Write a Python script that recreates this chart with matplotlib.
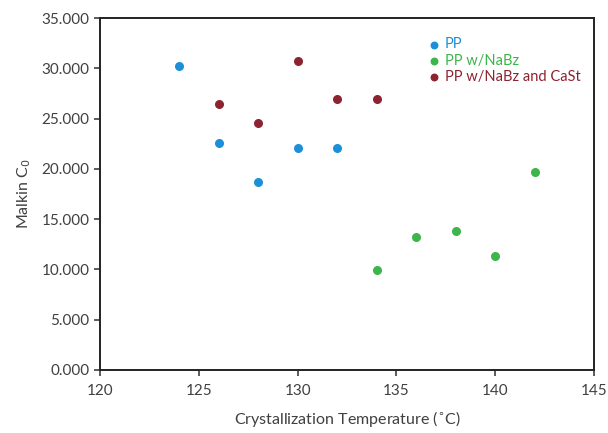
import matplotlib.pyplot as plt
from matplotlib.ticker import FormatStrFormatter

# crystallization temperature (C) and Malkin C0 per sample set
pp_t = [124, 126, 128, 130, 132]
pp_c = [30.2, 22.6, 18.7, 22.1, 22.1]

nabz_t = [134, 136, 138, 140, 142]
nabz_c = [9.9, 13.2, 13.8, 11.3, 19.7]

cast_t = [126, 128, 130, 132, 134]
cast_c = [26.5, 24.6, 30.7, 27.0, 27.0]

labels = ["PP", "PP w/NaBz", "PP w/NaBz and CaSt"]
colors = ["#1b8fd8", "#3cb54a", "#8c2331"]
x_ticks = [120, 125, 130, 135, 140, 145]
y_ticks = [0, 5, 10, 15, 20, 25, 30, 35]

text_col = "#404040"
plt.rcParams['font.family'] = ['Lato', 'DejaVu Sans']

fig = plt.figure(figsize=(6.08, 4.33), dpi=100)
ax = fig.add_axes([0.1645, 0.1455, 0.8125, 0.8125])

for t, c, lab, col in zip([pp_t, nabz_t, cast_t], [pp_c, nabz_c, cast_c], labels, colors):
    ax.scatter(t, c, s=30, color=col, label=lab, zorder=3)

ax.set_xlim(120, 145)
ax.set_ylim(0, 35)
ax.set_xticks(x_ticks)
ax.set_yticks(y_ticks)
ax.yaxis.set_major_formatter(FormatStrFormatter('%.3f'))
ax.tick_params(labelsize=11, colors=text_col, length=4, width=1.2, direction='out')
ax.tick_params(axis='x', pad=6)
for s in ax.spines.values():
    s.set_linewidth(1.4)
    s.set_color("#222222")

ax.set_xlabel("Crystallization Temperature ($^{\\circ}$C)", fontsize=11.5, color=text_col, labelpad=8)
ax.set_ylabel("Malkin C$_0$", fontsize=11.5, color=text_col, labelpad=6)

ax.legend(loc='upper left', bbox_to_anchor=(0.64, 0.97), frameon=False, fontsize=10.5,
          labelcolor='markerfacecolor', handletextpad=0.15, borderaxespad=0.2,
          labelspacing=0.15, markerscale=0.85, handlelength=1.2)

fig.savefig("out.png", dpi=100)
